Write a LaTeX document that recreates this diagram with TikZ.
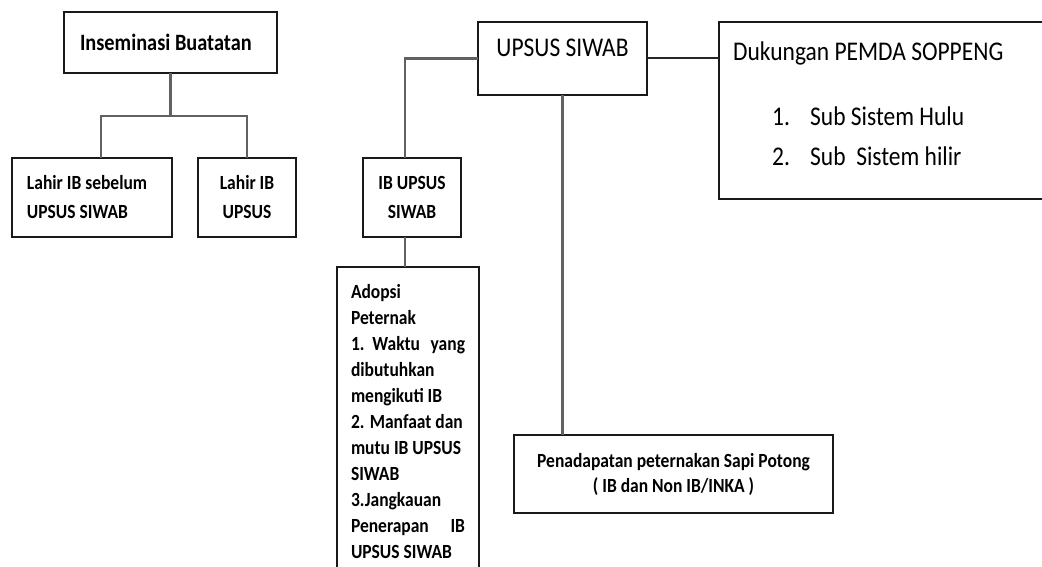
\documentclass[tikz,border=0pt]{standalone}
\usepackage{fontspec}
\setmainfont{Carlito}[FakeStretch=0.87]
\tikzset{
  kotak/.style={rectangle, draw=black!90, line width=1.8pt, inner sep=0pt, outer sep=0pt},
  judul/.style={kotak, font=\bfseries\fontsize{23.4}{27}\selectfont},
  isi/.style={kotak, font=\bfseries\fontsize{20.1}{29}\selectfont},
  teks/.style={inner sep=0pt, anchor=base west, font=\fontsize{27}{32}\selectfont},
  garis/.style={draw=black!62, line width=2.2pt}
}

\begin{document}
\begin{tikzpicture}[x=1pt,y=-1pt]
  \useasboundingbox (0,0) rectangle (1042,567);
  \clip (0,0) rectangle (1042,567);
  % pohon kiri
  \node[judul, minimum height=61pt, text width=181pt, inner xsep=16pt, align=flush left, anchor=north west] (ib) at (64,12) {Inseminasi Buatatan};
  \node[isi, minimum height=79pt, text width=130pt, inner xsep=15pt, align=flush left, anchor=north west] (lahirsbl) at (12,158) {Lahir IB sebelum\\UPSUS SIWAB};
  \node[isi, minimum width=98pt, minimum height=79pt, align=center, anchor=north west] (lahirib) at (198,158) {Lahir IB\\UPSUS};
  %
  \draw[garis] (ib.south) -- ++(0,43) coordinate (ibcabang);
  \draw[garis] (ibcabang) -| ([xshift=9pt]lahirsbl.north);
  \draw[garis] (ibcabang) -| (lahirib.north);
  % pohon kanan
  \node[kotak, minimum width=169pt, minimum height=73pt, anchor=north west] (upsus) at (478,22) {};
  \node[teks, anchor=base] (upsustxt) at ([yshift=-35pt]upsus.north) {UPSUS SIWAB};
  \node[isi, minimum width=98pt, minimum height=79pt, align=center, anchor=north west] (ibupsus) at (363,158) {IB UPSUS\\SIWAB};
  \node[kotak, font=\bfseries\fontsize{20.1}{26}\selectfont, text width=114pt, inner xsep=14pt, inner ysep=17pt, align=flush left, anchor=north west] (adopsi) at (337,267)
    {Adopsi\\Peternak\\1.\ \ Waktu\hfill yang\\dibutuhkan\\mengikuti IB\\2. Manfaat dan\\mutu IB UPSUS\\SIWAB\\3.Jangkauan\\Penerapan\hfill IB\\UPSUS SIWAB};
  \node[isi, font=\bfseries\fontsize{20.1}{25}\selectfont, minimum width=319pt, minimum height=78pt, align=center, anchor=north west] (pendapatan) at (514,435)
    {Penadapatan peternakan Sapi Potong\\( IB dan Non IB/INKA )};
  \node[kotak, minimum width=340pt, minimum height=177pt, anchor=north west] (dukungan) at (719,22) {};
  \node[teks] (dukungantxt) at ([xshift=14pt,yshift=-39pt]dukungan.north west) {Dukungan PEMDA SOPPENG};
  \node[teks] (hulu) at ([xshift=53pt,yshift=-104pt]dukungan.north west) {\makebox[38pt][l]{1.}Sub Sistem Hulu};
  \node[teks] (hilir) at ([xshift=53pt,yshift=-144pt]dukungan.north west) {\makebox[38pt][l]{2.}Sub\ \ Sistem hilir};
  %
  \draw[garis] (upsus.west) -| ([xshift=-7pt]ibupsus.north);
  \draw[garis] ([xshift=-7pt]ibupsus.south) -- ([xshift=-7pt]ibupsus.south |- adopsi.north);
  \draw[garis] (upsus.south) -- (upsus.south |- pendapatan.north);
  \draw[garis, draw=black!85, line width=2pt] (upsus.east) -- (upsus.east -| dukungan.west);
\end{tikzpicture}
\end{document}
